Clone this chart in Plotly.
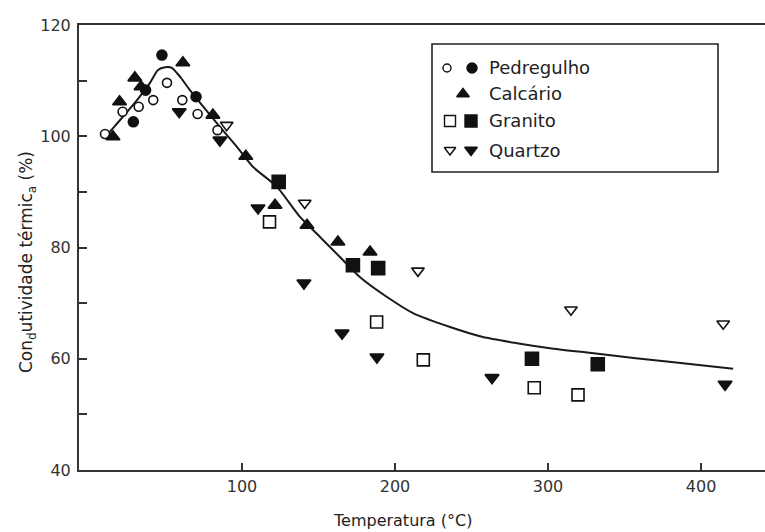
import plotly.graph_objects as go

# Temperature (°C) and relative thermal conductivity (%) per rock type
pedregulho_open_t = [10.5, 22, 32.5, 42, 51, 61, 71, 84]
pedregulho_open_k = [100.4, 104.4, 105.3, 106.5, 109.6, 106.5, 104.0, 101.1]
pedregulho_fill_t = [29, 37, 47.7, 70]
pedregulho_fill_k = [102.6, 108.3, 114.6, 107.1]

calcario_t = [15.7, 20, 30, 34, 61.4, 81, 102.5, 121.6, 142.5, 162.7, 183.7]
calcario_k = [99.9, 106.2, 110.5, 108.9, 113.2, 103.8, 96.4, 87.6, 84.0, 81.0, 79.2]

granito_open_t = [118, 188, 218.5, 291, 319.6]
granito_open_k = [84.6, 66.6, 59.8, 54.8, 53.5]
granito_fill_t = [124, 172.5, 189, 289.5, 332.5]
granito_fill_k = [91.8, 76.8, 76.3, 60.0, 59.0]

quartzo_open_t = [90, 141, 215, 315, 414.5]
quartzo_open_k = [102.0, 88.0, 75.8, 68.8, 66.3]
quartzo_fill_t = [59, 85.6, 110.5, 140.5, 165.4, 188.2, 263.4, 415.7]
quartzo_fill_k = [104.4, 99.3, 87.1, 73.6, 64.6, 60.3, 56.6, 55.4]

# Mean trend line
curva_t = [11.8, 22.2, 31.4, 39.9, 45.1, 49.7, 54.2, 59.5, 66, 85.6, 96.7, 107.2,
           122.9, 137.9, 151, 164, 177, 194.8, 211.8, 236, 257.5, 279.7, 301.3,
           322.9, 345, 366.7, 388.2, 421]
curva_k = [100.2, 103.5, 106.5, 109.6, 111.9, 112.4, 112.3, 110.7, 108.3, 101.7, 98.1,
           94.5, 90.9, 85.5, 81.9, 78.3, 74.7, 71.1, 68.2, 65.7, 63.9, 62.8, 61.9,
           61.2, 60.5, 59.8, 59.2, 58.2]

x_ticks = [100, 200, 300, 400]
y_ticks = [40, 60, 80, 100, 120]

legend_labels = ["Pedregulho", "Calcário", "Granito", "Quartzo"]

W, H = 765, 532
L, R, T, B = 79, 0, 25, 62
PW, PH = W - L - R, H - T - B

INK = "#111111"
AX = "#333333"
FONT = "DejaVu Sans, Verdana, sans-serif"

fig = go.Figure()

fig.add_trace(go.Scatter(x=curva_t, y=curva_k, mode="lines",
                         line=dict(color="#1a1a1a", width=2, shape="spline", smoothing=0.6),
                         hoverinfo="skip"))


def pts(x, y, symbol, size, fill):
    fig.add_trace(go.Scatter(
        x=x, y=y, mode="markers",
        marker=dict(symbol=symbol, size=size, color=fill,
                    line=dict(color=INK, width=1.6)),
    ))


pts(pedregulho_open_t, pedregulho_open_k, "circle", 9, "white")
pts(pedregulho_fill_t, pedregulho_fill_k, "circle", 10, INK)
pts(calcario_t, calcario_k, "triangle-up", 12, INK)
pts(granito_open_t, granito_open_k, "square", 12, "white")
pts(granito_fill_t, granito_fill_k, "square", 13, INK)
pts(quartzo_open_t, quartzo_open_k, "triangle-down", 11, "white")
pts(quartzo_fill_t, quartzo_fill_k, "triangle-down", 12, INK)


# Hand-built legend drawn on an overlay axis spanning the plot area
def px2paper(px, py):
    return (px - L) / PW, (H - B - py) / PH


leg_rows_y = [68, 94, 121, 150]
leg_syms = [
    [(447, "circle", 8, "white"), (472, "circle", 10, INK)],
    [(463, "triangle-up", 11, INK)],
    [(450, "square", 11, "white"), (471, "square", 12, INK)],
    [(450, "triangle-down", 10, "white"), (471, "triangle-down", 11, INK)],
]
for ry, syms in zip(leg_rows_y, leg_syms):
    for sx, sym, sz, fill in syms:
        lx, ly = px2paper(sx, ry)
        fig.add_trace(go.Scatter(
            x=[lx], y=[ly], xaxis="x2", yaxis="y2", mode="markers",
            marker=dict(symbol=sym, size=sz, color=fill, line=dict(color=INK, width=1.4)),
            hoverinfo="skip"))

for ry, lab in zip(leg_rows_y, legend_labels):
    lx, ly = px2paper(487, ry)
    fig.add_annotation(x=lx, y=ly, xref="paper", yref="paper", text=lab,
                       showarrow=False, xanchor="left", yanchor="middle",
                       font=dict(family=FONT, size=18, color="#222"))

bx0, by0 = px2paper(432, 44)
bx1, by1 = px2paper(718, 172)
fig.add_shape(type="rect", xref="paper", yref="paper", x0=bx0, x1=bx1, y0=by1, y1=by0,
              line=dict(color="#222", width=1.6), fillcolor="rgba(0,0,0,0)")

# Axis titles
tx, ty = px2paper(27, 262)
fig.add_annotation(x=tx, y=ty, xref="paper", yref="paper",
                   text="Con<sub>d</sub>utividade térmic<sub>a</sub> (%)",
                   textangle=-90, showarrow=False, xanchor="center", yanchor="middle",
                   font=dict(family=FONT, size=17, color="#222"))
ax_, ay_ = px2paper(402, 520)
fig.add_annotation(x=ax_, y=ay_, xref="paper", yref="paper", text="Temperatura (°C)",
                   showarrow=False, xanchor="center", yanchor="middle",
                   font=dict(family=FONT, size=16, color="#222"))

fig.update_layout(
    width=W, height=H,
    margin=dict(l=L, r=R, t=T, b=B),
    paper_bgcolor="white", plot_bgcolor="white",
    showlegend=False,
    font=dict(family=FONT, size=16, color="#333"),
    xaxis=dict(range=[-6.5, 441.8], tickvals=x_ticks, ticks="inside", ticklen=7,
               tickwidth=1.5, tickcolor=AX, showline=True, linecolor=AX, linewidth=2,
               mirror=True, showgrid=False, zeroline=False, ticklabelstandoff=1,
               tickfont=dict(size=16, color="#333")),
    yaxis=dict(range=[40, 120], tickvals=y_ticks, ticks="inside", ticklen=8,
               tickwidth=1.5, tickcolor=AX, showline=True, linecolor=AX, linewidth=2,
               showgrid=False, zeroline=False, ticklabelstandoff=3,
               minor=dict(dtick=10, ticks="inside", ticklen=8, tickwidth=1.5, tickcolor=AX),
               tickfont=dict(size=16, color="#333")),
    xaxis2=dict(overlaying="x", range=[0, 1], visible=False, fixedrange=True),
    yaxis2=dict(overlaying="y", range=[0, 1], visible=False, fixedrange=True),
)

fig.write_html("out.html")
